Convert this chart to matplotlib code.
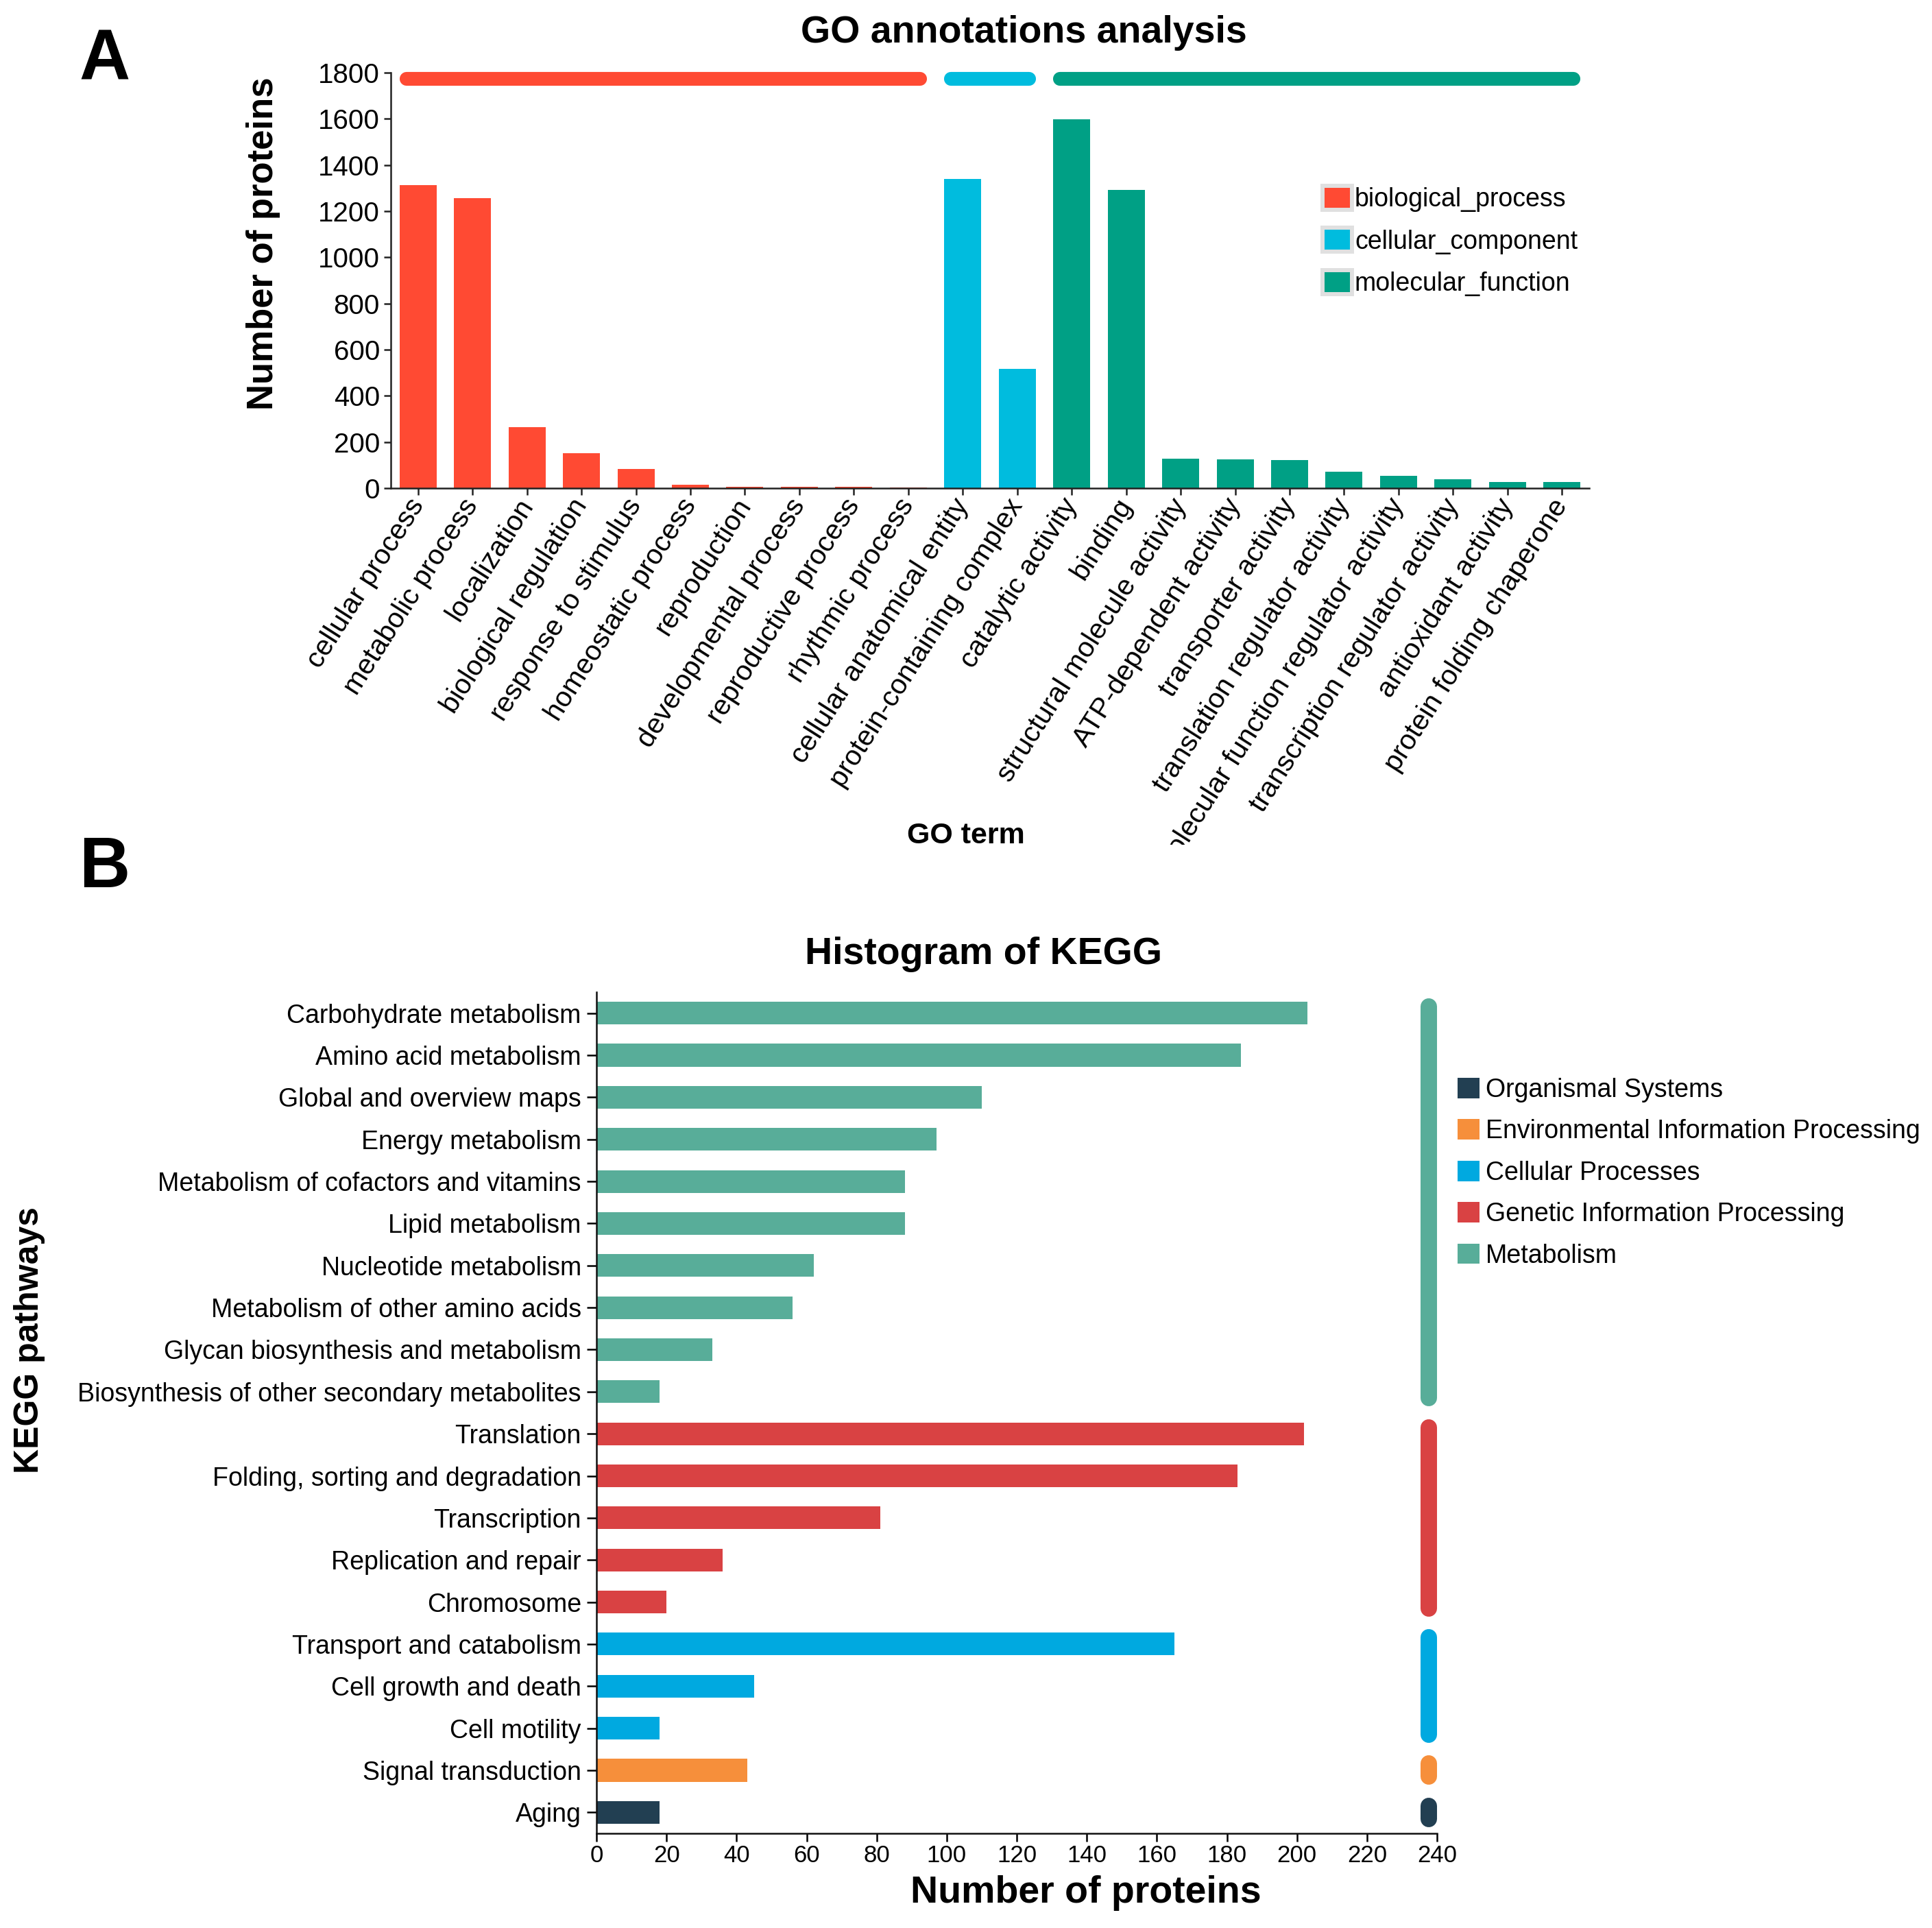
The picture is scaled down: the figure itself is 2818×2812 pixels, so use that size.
import matplotlib
matplotlib.use('Agg')
import matplotlib.pyplot as plt
from matplotlib.patches import Patch
from matplotlib.transforms import Bbox, TransformedBbox

plt.rcParams['font.family'] = ['Liberation Sans', 'DejaVu Sans']

# GO annotation counts
go_terms = ['cellular process', 'metabolic process', 'localization', 'biological regulation',
            'response to stimulus', 'homeostatic process', 'reproduction', 'developmental process',
            'reproductive process', 'rhythmic process', 'cellular anatomical entity',
            'protein-containing complex', 'catalytic activity', 'binding',
            'structural molecule activity', 'ATP-dependent activity', 'transporter activity',
            'translation regulator activity', 'molecular function regulator activity',
            'transcription regulator activity', 'antioxidant activity', 'protein folding chaperone']
go_counts = [1313, 1255, 263, 151, 83, 16, 7, 6, 5, 3,
             1339, 517,
             1597, 1292, 129, 125, 121, 72, 54, 39, 28, 26]
go_groups = ['biological_process'] * 10 + ['cellular_component'] * 2 + ['molecular_function'] * 10
go_group_names = ['biological_process', 'cellular_component', 'molecular_function']
go_colors = {'biological_process': '#FF4A33',
             'cellular_component': '#00BCDE',
             'molecular_function': '#00A085'}

# KEGG pathway counts
kegg_pathways = ['Carbohydrate metabolism', 'Amino acid metabolism', 'Global and overview maps',
                 'Energy metabolism', 'Metabolism of cofactors and vitamins', 'Lipid metabolism',
                 'Nucleotide metabolism', 'Metabolism of other amino acids',
                 'Glycan biosynthesis and metabolism', 'Biosynthesis of other secondary metabolites',
                 'Translation', 'Folding, sorting and degradation', 'Transcription',
                 'Replication and repair', 'Chromosome', 'Transport and catabolism',
                 'Cell growth and death', 'Cell motility', 'Signal transduction', 'Aging']
kegg_counts = [203, 184, 110, 97, 88, 88, 62, 56, 33, 18,
               202, 183, 81, 36, 20,
               165, 45, 18,
               43,
               18]
kegg_classes = (['Metabolism'] * 10 + ['Genetic Information Processing'] * 5 +
                ['Cellular Processes'] * 3 + ['Environmental Information Processing'] +
                ['Organismal Systems'])
kegg_class_names = ['Organismal Systems', 'Environmental Information Processing',
                    'Cellular Processes', 'Genetic Information Processing', 'Metabolism']
kegg_colors = {'Metabolism': '#58AD99',
               'Genetic Information Processing': '#D94243',
               'Cellular Processes': '#00A9E0',
               'Environmental Information Processing': '#F68F3B',
               'Organismal Systems': '#223F52'}

W, H = 2818, 2812
fig = plt.figure(figsize=(W / 100, H / 100), dpi=100)


def fx(px):
    return px / W


def fy(py):
    return 1 - py / H


# ---------- panel A ----------
ax1 = fig.add_axes([fx(570), fy(712), fx(2318) - fx(570), fy(106) - fy(712)])
xpos = list(range(len(go_terms)))
ax1.bar(xpos, go_counts, width=0.68, color=[go_colors[g] for g in go_groups], zorder=2)
ax1.set_xlim(-0.5, 21.5)
ax1.set_ylim(0, 1800)
ax1.set_yticks(range(0, 1801, 200))
ax1.set_xticks(xpos)
ax1.set_xticklabels(go_terms, rotation=57.5, ha='right', va='center', rotation_mode='anchor')
for s in ['top', 'right']:
    ax1.spines[s].set_visible(False)
for s in ['left', 'bottom']:
    ax1.spines[s].set_linewidth(1.8)
    ax1.spines[s].set_color('#222222')
ax1.tick_params(axis='both', length=7.5, width=1.8, color='#222222')
ax1.tick_params(axis='y', labelsize=29, pad=4)
ax1.tick_params(axis='x', labelsize=29.5, pad=6)

# group bars across the top
for g in go_group_names:
    idx = [i for i, gg in enumerate(go_groups) if gg == g]
    ax1.plot([idx[0] - 0.215, idx[-1] + 0.215], [1773, 1773], color=go_colors[g],
             lw=14.5, solid_capstyle='round', clip_on=False, zorder=3)

clip = TransformedBbox(Bbox([[0, fy(1232)], [1, 1]]), fig.transFigure)
for lab in ax1.get_xticklabels():
    lab.set_clip_on(True)
    lab.set_clip_box(clip)

go_handles = [Patch(facecolor=go_colors[g], edgecolor='#e0e0e0', linewidth=4.3) for g in go_group_names]
fig.legend(go_handles, go_group_names, loc='upper left',
           bbox_to_anchor=(fx(1929), fy(271)), frameon=False, fontsize=27,
           borderpad=0, borderaxespad=0, handlelength=1.15, handleheight=1.05,
           handletextpad=0.1, labelspacing=0.62)

fig.text(fx(1493), fy(62), 'GO annotations analysis', ha='center', va='baseline',
         fontsize=40, fontweight='bold')
fig.text(fx(384), fy(355), 'Number of proteins', ha='center', va='center',
         rotation=90, fontsize=38, fontweight='bold')
fig.text(fx(1409), fy(1230), 'GO term', ha='center', va='baseline',
         fontsize=31, fontweight='bold')
fig.text(fx(115), fy(116), 'A', ha='left', va='baseline', fontsize=74, fontweight='bold')
fig.text(fx(115), fy(1294), 'B', ha='left', va='baseline', fontsize=74, fontweight='bold')

# ---------- panel B ----------
ax2 = fig.add_axes([fx(870), fy(2674), fx(2096) - fx(870), fy(1447) - fy(2674)])
ypos = list(range(len(kegg_pathways)))
ax2.barh(ypos, kegg_counts, height=0.54, color=[kegg_colors[c] for c in kegg_classes], zorder=2)
ax2.set_xlim(0, 240)
ax2.set_ylim(19.5, -0.5)
ax2.set_xticks(range(0, 241, 20))
ax2.set_yticks(ypos)
ax2.set_yticklabels(kegg_pathways)
for s in ['top', 'right']:
    ax2.spines[s].set_visible(False)
for s in ['left', 'bottom']:
    ax2.spines[s].set_linewidth(1.8)
    ax2.spines[s].set_color('#111111')
ax2.tick_params(axis='y', labelsize=27, length=10, width=1.8, pad=6)
ax2.tick_params(axis='x', labelsize=25, length=8.6, width=1.8, pad=3)

for c in kegg_class_names:
    idx = [i for i, cc in enumerate(kegg_classes) if cc == c]
    ax2.plot([237.7, 237.7], [idx[0] - 0.155, idx[-1] + 0.155], color=kegg_colors[c],
             lw=17.3, solid_capstyle='round', clip_on=False, zorder=3)

kegg_handles = [Patch(facecolor=kegg_colors[c], edgecolor='none') for c in kegg_class_names]
fig.legend(kegg_handles, kegg_class_names, loc='upper left',
           bbox_to_anchor=(fx(2126), fy(1572)), frameon=False, fontsize=27,
           borderpad=0, borderaxespad=0, handlelength=0.85, handleheight=0.85,
           handletextpad=0.25, labelspacing=0.65)

fig.text(fx(1435), fy(1406), 'Histogram of KEGG', ha='center', va='baseline',
         fontsize=40, fontweight='bold')
fig.text(fx(1584), fy(2775), 'Number of proteins', ha='center', va='baseline',
         fontsize=40, fontweight='bold')
fig.text(fx(43), fy(1955), 'KEGG pathways', ha='center', va='center', rotation=90,
         fontsize=36, fontweight='bold')

fig.savefig('out.png', dpi=100)
